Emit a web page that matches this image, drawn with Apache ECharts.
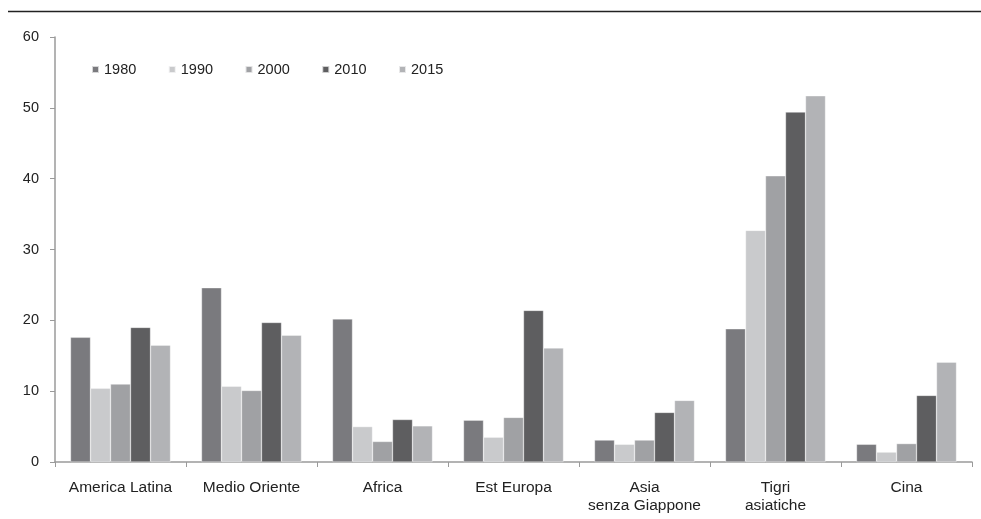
<!DOCTYPE html>
<html>
<head>
<meta charset="utf-8">
<script src="https://cdn.jsdelivr.net/npm/echarts@6/dist/echarts.min.js"></script>
<style>
  html, body { margin: 0; padding: 0; background: #fff; }
  #chart { width: 981px; height: 519px; }
</style>
</head>
<body>
<div id="chart"></div>
<script>
// Regions on the category axis
const categories = ['America Latina', 'Medio Oriente', 'Africa', 'Est Europa', 'Asia\nsenza Giappone', 'Tigri\nasiatiche', 'Cina'];

// Values per year
const years = ['1980', '1990', '2000', '2010', '2015'];
const v1980 = [17.6, 24.6, 20.2, 5.9, 3.1, 18.8, 2.5];
const v1990 = [10.4, 10.7, 5.0, 3.5, 2.5, 32.7, 1.4];
const v2000 = [11.0, 10.1, 2.9, 6.3, 3.1, 40.4, 2.6];
const v2010 = [19.0, 19.7, 6.0, 21.4, 7.0, 49.4, 9.4];
const v2015 = [16.5, 17.9, 5.1, 16.1, 8.7, 51.7, 14.1];

const seriesValues = [v1980, v1990, v2000, v2010, v2015];
const colors = ['#7a7a7e', '#c9cacc', '#a0a1a4', '#5e5e60', '#b2b3b6'];

const chart = echarts.init(document.getElementById('chart'), null, { renderer: 'canvas' });

const font = 'Liberation Sans, Arial, sans-serif';

chart.setOption({
  animation: false,
  color: colors,
  textStyle: { fontFamily: font },
  grid: { left: 55, right: 9, top: 37, bottom: 57, containLabel: false },
  legend: {
    data: years,
    left: 86,
    top: 57,
    itemWidth: 7,
    itemHeight: 7,
    itemGap: 31.5,
    icon: 'rect',
    textStyle: { fontSize: 14.5, color: '#222', fontFamily: font }
  },
  xAxis: {
    type: 'category',
    data: categories,
    axisLine: { lineStyle: { color: '#9a9a9a', width: 1.5 } },
    axisTick: { show: true, length: 5, lineStyle: { color: '#9a9a9a' } },
    axisLabel: { interval: 0, fontSize: 15.5, color: '#222', margin: 17, lineHeight: 18, fontFamily: font }
  },
  yAxis: {
    type: 'value',
    min: 0,
    max: 60,
    interval: 10,
    splitLine: { show: false },
    axisLine: { show: true, lineStyle: { color: '#9a9a9a', width: 1.5 } },
    axisTick: { show: true, length: 5, lineStyle: { color: '#9a9a9a' } },
    axisLabel: { fontSize: 14.5, color: '#222', margin: 16, fontFamily: font }
  },
  graphic: [{
    type: 'line',
    shape: { x1: 8, y1: 11.5, x2: 981, y2: 11.5 },
    style: { stroke: '#222', lineWidth: 1.5 }
  }],
  series: years.map((y, i) => ({
    name: y,
    type: 'bar',
    data: seriesValues[i],
    barWidth: 20,
    barGap: '0%',
    itemStyle: { color: colors[i], borderColor: 'rgba(255,255,255,0.7)', borderWidth: 0.5 }
  }))
});
</script>
</body>
</html>
